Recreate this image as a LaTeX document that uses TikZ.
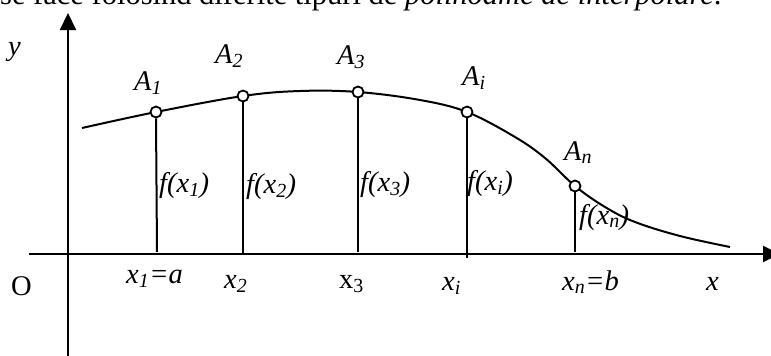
\documentclass[tikz,border=0pt]{standalone}
\usepackage{fontspec}
\setmainfont{Liberation Serif}
\usetikzlibrary{arrows.meta}
\tikzset{
  lbl/.style={inner sep=0pt, anchor=base west, font=\fontsize{28.5}{32}\selectfont},
  pt/.style={circle, draw, fill=white, line width=1.8pt, minimum size=11pt, inner sep=0pt},
  ln/.style={line width=2pt},
  axis/.style={line width=2pt, -{Triangle[length=17pt,width=16pt]}}
}
\newcommand{\lsub}[1]{\textsubscript{#1}}
\begin{document}
\begin{tikzpicture}[x=1pt,y=-1pt]
\useasboundingbox (0,0) rectangle (771,356);
\clip (0,0) rectangle (771,356);
% top sentence (cut off)
\node[lbl, font=\fontsize{30.5}{34}\selectfont] (txt) at (0,5) {se face folosind diferite tipuri de \textit{polinoame de interpolare}.};
% axes
\coordinate (ybot) at (68,360);
\coordinate (ytop) at (68,13);
\coordinate (xl) at (29,254);
\coordinate (xr) at (780,254);
\draw[axis] (ybot) -- (ytop);
\draw[axis] (xl) -- (xr);
% curve
\draw[ln] plot[smooth, tension=0.6] coordinates {(82,128) (156,112) (243,96) (300,91) (358,92) (420,100) (467,112) (515,137) (545,158) (575,186) (605,207) (635,222) (680,236) (730,247)};
% points
\node[pt] (A1) at (156,112) {};
\node[pt] (A2) at (243,96) {};
\node[pt] (A3) at (358,92) {};
\node[pt] (Ai) at (467,112) {};
\node[pt] (An) at (575,186) {};
% foot points
\coordinate (X1) at (157,252);
\coordinate (X2) at (243,254);
\coordinate (X3) at (358,252);
\coordinate (Xi) at (467,258);
\coordinate (Xn) at (575,252);
\draw[ln] (A1.south) -- (X1);
\draw[ln] (A2.south) -- (X2);
\draw[ln] (A3.south) -- (X3);
\draw[ln] (Ai.south) -- (Xi);
\draw[ln] (An.south) -- (Xn);
% labels
\node[lbl] (ly) at (8,55) {\textit{y}};
\node[lbl] (lA1) at (134,90) {\textit{A\lsub{1}}};
\node[lbl] (lA2) at (215,63) {\textit{A\lsub{2}}};
\node[lbl] (lA3) at (337,64) {\textit{A\lsub{3}}};
\node[lbl] (lAi) at (462,85) {\textit{A\lsub{i}}};
\node[lbl] (lAn) at (564,160) {\textit{A\lsub{n}}};
\node[lbl] (f1) at (159,192) {\textit{f(x\lsub{1})}};
\node[lbl] (f2) at (246,193) {\textit{f(x\lsub{2})}};
\node[lbl] (f3) at (360,191) {\textit{f(x\lsub{3})}};
\node[lbl] (fi) at (467,190) {\textit{f(x\lsub{i})}};
\node[lbl] (fn) at (579,224) {\textit{f(x\lsub{n})}};
\node[lbl] (lO) at (11,295) {O};
\node[lbl] (lx1) at (126,283) {\textit{x\lsub{1}=a}};
\node[lbl] (lx2) at (224,288) {\textit{x\lsub{2}}};
\node[lbl] (lx3) at (339,288) {x\lsub{3}};
\node[lbl] (lxi) at (442,290) {\textit{x\lsub{i}}};
\node[lbl] (lxn) at (562,290) {\textit{x\lsub{n}=b}};
\node[lbl] (lx) at (706,290) {\textit{x}};
\end{tikzpicture}
\end{document}
